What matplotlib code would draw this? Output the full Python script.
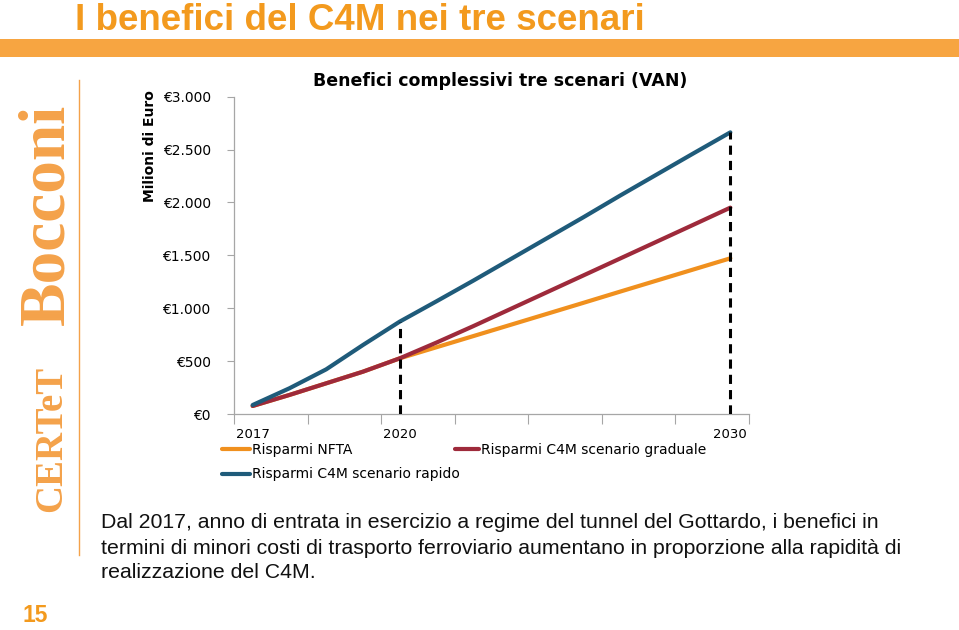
import numpy as np
import matplotlib
matplotlib.use("Agg")
import matplotlib.pyplot as plt
from matplotlib import font_manager as fm
from matplotlib.lines import Line2D
from matplotlib.patches import Rectangle

# ---------------- data ----------------
categories = ['2017', '', '', '', '2020', '', '', '', '', '', '', '', '', '2030']
nfta     = [76, 180, 290, 400, 526, 631, 736, 841, 946, 1051, 1157, 1262, 1367, 1472]
graduale = [76, 180, 290, 400, 526, 675, 830, 990, 1150, 1310, 1470, 1630, 1790, 1951]
rapido   = [85, 243, 422, 652, 873, 1065, 1260, 1460, 1660, 1860, 2065, 2265, 2465, 2663]
series_names = ['Risparmi NFTA', 'Risparmi C4M scenario graduale', 'Risparmi C4M scenario rapido']
marker_idx = [4, 13]
yticks = [0, 500, 1000, 1500, 2000, 2500, 3000]
ytick_labels = ['€0', '€500', '€1.000', '€1.500', '€2.000', '€2.500', '€3.000']

ORANGE = '#F0901E'
RED = '#9E2A3B'
BLUE = '#1F5B7A'
TITLE_OR = '#F39A1E'
BAR_OR = '#F7A541'
SIDE_OR = '#F4A24A'

avail = {f.name for f in fm.fontManager.ttflist}
narrow = 'Liberation Sans Narrow' in avail

W, H = 959, 630
fig = plt.figure(figsize=(W / 100, H / 100), dpi=100)
fig.patch.set_facecolor('white')

def fx(px):
    return px / W

def fy(py):
    return 1 - py / H

# page title and orange bar
fig.text(fx(75), fy(30), 'I benefici del C4M nei tre scenari', ha='left', va='baseline',
         fontsize=26.5, fontweight='bold', color=TITLE_OR, family='Liberation Sans')
fig.patches.append(Rectangle((0, fy(57)), 1, 18 / H, transform=fig.transFigure,
                             facecolor=BAR_OR, edgecolor='none'))

# sidebar
fig.add_artist(Line2D([fx(79), fx(79)], [fy(80), fy(555)], transform=fig.transFigure,
                      color=SIDE_OR, lw=1))
fig.text(fx(47), fy(325), 'Bocconi', rotation=90, ha='center', va='bottom',
         fontsize=47, fontweight='bold', color=SIDE_OR, family='Liberation Serif')
fig.text(fx(52), fy(512), 'CERTeT', rotation=90, ha='center', va='bottom',
         fontsize=28, fontweight='bold', color=SIDE_OR, family='Liberation Serif')
fig.text(fx(35), fy(615), '15', ha='center', va='center', fontsize=16.5,
         fontweight='bold', color=TITLE_OR, family='Liberation Sans')

# chart
ax = fig.add_axes([fx(234.3), fy(414), (748.7 - 234.3) / W, (414 - 96.7) / H])
x = np.arange(len(categories))
l1, = ax.plot(x, nfta, color=ORANGE, lw=3, zorder=3, solid_capstyle='round')
l2, = ax.plot(x, graduale, color=RED, lw=3, zorder=4, solid_capstyle='round')
l3, = ax.plot(x, rapido, color=BLUE, lw=3, zorder=5, solid_capstyle='round')
for i in marker_idx:
    ax.plot([x[i], x[i]], [0, rapido[i]], color='black', lw=2.2,
            ls=(0, (3, 2)), zorder=6)

ax.set_xlim(-0.5, len(categories) - 0.5)
ax.set_ylim(yticks[0], yticks[-1])
for s in ['top', 'right']:
    ax.spines[s].set_visible(False)
for s in ['left', 'bottom']:
    ax.spines[s].set_color('#A6A6A6')
    ax.spines[s].set_linewidth(0.9)

ax.set_yticks(yticks)
ax.set_yticklabels(ytick_labels, fontsize=10, family='DejaVu Sans')
ax.tick_params(axis='y', direction='out', length=5, color='#A6A6A6', pad=12)

ax.set_xticks(np.arange(-0.5, len(categories), 2))
ax.set_xticklabels([])
ax.tick_params(axis='x', which='major', direction='out', length=7, color='#A6A6A6')
lab_pos = [i for i, c in enumerate(categories) if c]
ax.set_xticks(lab_pos, minor=True)
ax.set_xticklabels([categories[i] for i in lab_pos], minor=True, fontsize=9.5,
                   family='DejaVu Sans')
ax.tick_params(axis='x', which='minor', length=0, pad=10)

fig.text(fx(500.5), fy(80.5), 'Benefici complessivi tre scenari (VAN)', ha='center',
         va='center', fontsize=12.5, fontweight='bold', family='DejaVu Sans')
fig.text(fx(150), fy(146), 'Milioni di Euro', rotation=90, ha='center', va='center',
         fontsize=10, fontweight='bold', family='DejaVu Sans')

leg_kw = dict(frameon=False, borderpad=0, borderaxespad=0, handlelength=2.0,
              handletextpad=0.15, labelspacing=0.75, fontsize=10, loc='upper left')
fig.legend([l1, l3], [series_names[0], series_names[2]],
           bbox_to_anchor=(fx(222), fy(443)), **leg_kw)
leg_kw['handlelength'] = 1.7
fig.legend([l2], [series_names[1]], bbox_to_anchor=(fx(455), fy(443)), **leg_kw)

# body text
body = ['Dal 2017, anno di entrata in esercizio a regime del tunnel del Gottardo, i benefici in',
        'termini di minori costi di trasporto ferroviario aumentano in proporzione alla rapidità di',
        'realizzazione del C4M.']
bfam = 'Liberation Sans Narrow' if narrow else 'Liberation Sans'
bsize = 17.5 if narrow else 15.3
for k, line in enumerate(body):
    fig.text(fx(101), fy(523 + 25 * k), line, ha='left', va='center',
             fontsize=bsize, family=bfam, color='#111111')

fig.savefig('out.png', dpi=100)
